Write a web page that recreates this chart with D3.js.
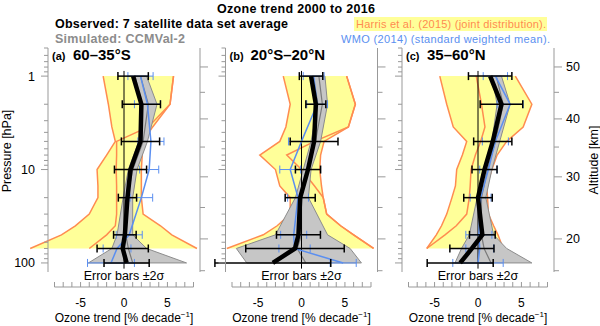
<!DOCTYPE html>
<html lang="en">
<head>
  <meta charset="UTF-8">
  <title>Ozone trend 2000 to 2016</title>
  <script src="https://d3js.org/d3.v7.min.js"></script>
  <style>
    body { margin: 0; background: white; }
    svg { font-family: "Liberation Sans", Arial, Helvetica, sans-serif; }
    .axis { stroke: #999; stroke-width: 1px; fill: none; }
    .harris { fill: none; stroke: #ff8c50; stroke-width: 1.5px; }
    .ccm { fill: #c6c6c6; stroke: #8c8c8c; stroke-width: 1px; }
    .ccmmid { fill: none; stroke: #7a7a7a; stroke-width: 1.2px; }
    .wmo { fill: none; stroke: #5b8ff0; stroke-width: 1.5px; }
    .obs { fill: none; stroke: black; stroke-width: 4.5px; }
    .errobs { stroke: black; stroke-width: 1.5px; }
    .errwmo { stroke: #5b8ff0; stroke-width: 1px; }
  </style>
</head>
<body>
<svg id="svg" width="600" height="326"></svg>
<script>
// pressure levels [hPa] of observed, model and WMO trends
const pLevels = [1, 2, 5, 10, 20, 50, 70, 100];
// pressure levels of the Harris et al. (2015) range
const harrisP = [1, 2, 3.5, 5, 7, 10, 15, 20, 30, 40, 50, 70];

const panelTags = ["(a)", "(b)", "(c)"];
const panelTitles = ["60\u201335\u00b0S", "20\u00b0S\u201320\u00b0N", "35\u201360\u00b0N"];

// (a) 60-35S
const obsA = [1.05, 2.0, 1.9, 0.75, 0.4, 0.1, -0.15, 0.3];
const obsErrA = [1.75, 2.2, 2.2, 1.85, 1.05, 1.3, 2.95, 2.6];
const wmoA = [1.9, 2.7, 3.1, 2.9, 2.0, 0.6, -0.8, -1.5];
const wmoErrA = [1.45, 1.5, 1.5, 1.1, 1.3, 1.5, 1.6, 2.7];
const ccmLoA = [1.3, 2.0, 1.7, 0.5, -0.1, -0.8, -1.4, -4.1];
const ccmHiA = [2.6, 3.8, 2.7, 1.5, 1.0, 1.0, 2.6, 7.2];
const ccmMidA = [1.9, 2.8, 2.2, 1.0, 0.4, 0.2, 0.5, 1.0];
const harrisLoA = [-2.4, -1.8, -1.4, -1.0, -2.0, -3.1, -3.0, -3.0, -4.0, -5.6, -7.2, -10.8];
const harrisHiA = [5.7, 5.3, 3.3, 2.2, 2.1, 2.0, 2.0, 2.0, 2.2, 4.2, 5.5, 8.4];
const harrisInA = [5.7, 5.3, 2.8, -0.85, -0.85, -0.9, -0.85, -0.85, -0.85, -1.0, -2.0, -4.0];

// (b) 20S-20N
const obsB = [1.1, 1.65, 1.45, 0.75, -0.15, -0.35, -0.75, -3.3];
const obsErrB = [1.35, 1.15, 2.75, 1.45, 1.73, 2.53, 5.67, 6.67];
const wmoB = [1.4, 1.8, 0.0, -1.3, -0.4, -0.9, -0.8, 4.8];
const wmoErrB = [1.2, 1.2, 1.5, 1.2, 1.2, 1.5, 1.8, 1.5];
const ccmLoB = [1.36, 1.9, 1.1, 0.2, -0.7, -3.0, -7.5, -6.3];
const ccmHiB = [2.7, 3.0, 2.2, 1.1, 0.8, 3.0, 5.6, 6.9];
const ccmMidB = [2.0, 2.4, 1.6, 0.65, 0.0, 0.0, -0.5, 0.5];
const harrisLoB = [-2.1, -1.3, -1.8, -2.5, -4.8, -3.0, -2.5, -1.3, -1.3, -2.8, -4.4, -8.6];
const harrisHiB = [5.2, 6.2, 5.4, 2.6, 2.2, 2.1, 2.3, 2.5, 2.9, 4.5, 6.0, 8.3];
const harrisInB = [5.2, 6.2, 5.4, 1.5, -1.7, 0.0, 1.5, 2.5, 2.9, 4.5, 6.0, 8.3];

// (c) 35-60N
const obsC = [1.4, 2.7, 1.7, 0.75, 0.0, 0.5, -0.7, -2.05];
const obsErrC = [2.5, 2.45, 2.2, 1.44, 1.64, 1.48, 2.54, 3.8];
const wmoC = [2.0, 3.7, 2.0, 1.2, 0.3, 0.1, 0.2, 0.0];
const wmoErrC = [1.4, 1.5, 1.5, 1.0, 1.2, 1.5, 1.6, 2.9];
const ccmLoC = [1.6, 2.2, 1.6, 0.6, -0.1, -1.0, -1.9, -2.65];
const ccmHiC = [2.7, 3.7, 2.5, 1.6, 0.9, 1.8, 3.3, 6.2];
const ccmMidC = [2.1, 2.9, 2.0, 1.1, 0.4, 0.4, 0.7, 1.5];
const harrisLoC = [-4.4, -3.6, -2.85, -1.3, -1.8, -2.45, -2.6, -3.0, -3.6, -4.2, -4.8, -5.9];
const harrisHiC = [4.3, 6.2, 5.2, 3.3, 2.2, 1.6, 1.0, 1.1, 1.2, 1.8, 2.3, 2.9];
const harrisInC = [-0.2, 0.4, 0.8, 0.3, -0.3, -0.8, -0.9, -1.0, -1.3, -2.5, -3.8, -5.9];

// axes
const xTicks = d3.range(-8, 9);
const xLabels = [-5, 0, 5];
const pTicks = [0.5, 0.6, 0.7, 0.8, 0.9, 1, 2, 3, 4, 5, 6, 7, 8, 9, 10, 20, 30, 40, 50, 60, 70, 80, 90, 100];
const pLabels = [1, 10, 100];
// altitude [km] and its standard atmosphere pressure [hPa]
const altKm = [15, 20, 25, 30, 35, 40, 45, 50];
const altP = [121.1, 55.29, 25.49, 11.97, 5.746, 2.871, 1.491, 0.7978];

const panels = [
  {obs: obsA, obsErr: obsErrA, wmo: wmoA, wmoErr: wmoErrA, ccmLo: ccmLoA, ccmHi: ccmHiA, ccmMid: ccmMidA,
   hLo: harrisLoA, hHi: harrisHiA, hIn: harrisInA},
  {obs: obsB, obsErr: obsErrB, wmo: wmoB, wmoErr: wmoErrB, ccmLo: ccmLoB, ccmHi: ccmHiB, ccmMid: ccmMidB,
   hLo: harrisLoB, hHi: harrisHiB, hIn: harrisInB},
  {obs: obsC, obsErr: obsErrC, wmo: wmoC, wmoErr: wmoErrC, ccmLo: ccmLoC, ccmHi: ccmHiC, ccmMid: ccmMidC,
   hLo: harrisLoC, hHi: harrisHiC, hIn: harrisInC}
];

const svg = d3.select("#svg");
const y = d3.scaleLog().domain([0.5, 125]).range([48, 272]);
const lefts = [48, 225.5, 402];
const panelW = 152;

// header
svg.append("text").attr("x", 296).attr("y", 13).attr("text-anchor", "middle")
  .attr("font-weight", "bold").attr("font-size", 12.5).attr("textLength", 158)
  .text("Ozone trend 2000 to 2016");
svg.append("text").attr("x", 55).attr("y", 28)
  .attr("font-weight", "bold").attr("font-size", 12.5).attr("textLength", 233)
  .text("Observed: 7 satellite data set average");
svg.append("text").attr("x", 55).attr("y", 43).attr("fill", "#8c8c8c")
  .attr("font-weight", "bold").attr("font-size", 12.5).attr("textLength", 130)
  .text("Simulated: CCMVal-2");
svg.append("rect").attr("x", 354).attr("y", 17).attr("width", 193).attr("height", 14)
  .attr("fill", "#ffff99");
svg.append("text").attr("x", 356).attr("y", 28).attr("fill", "#ff8c50")
  .attr("font-size", 11).attr("textLength", 190)
  .text("Harris et al. (2015) (joint distribution).");
svg.append("text").attr("x", 341).attr("y", 43).attr("fill", "#5b8ff0")
  .attr("font-size", 11).attr("textLength", 209)
  .text("WMO (2014) (standard weighted mean).");

// axis titles
svg.append("text").attr("transform", "translate(11,151) rotate(-90)")
  .attr("text-anchor", "middle").attr("font-size", 12.5).text("Pressure [hPa]");
svg.append("text").attr("transform", "translate(598,160) rotate(-90)")
  .attr("text-anchor", "middle").attr("font-size", 12.5).text("Altitude [km]");

panels.forEach(function(d, i) {
  const x = d3.scaleLinear().domain([-8.75, 8.75]).range([lefts[i], lefts[i] + panelW]);
  const g = svg.append("g");
  const right = lefts[i] + panelW;

  // Harris range
  const hData = harrisP.map((p, k) => ({p: p, lo: d.hLo[k], hi: d.hHi[k], mid: d.hIn[k]}));
  g.append("path").datum(hData)
    .attr("fill", "#ffff99")
    .attr("d", d3.area().y(e => y(e.p)).x0(e => x(e.lo)).x1(e => x(e.hi)));
  ["lo", "hi", "mid"].forEach(function(key) {
    g.append("path").datum(hData).attr("class", "harris")
      .attr("d", d3.line().x(e => x(e[key])).y(e => y(e.p)));
  });

  // CCMVal-2 range
  const mData = pLevels.map((p, k) => ({p: p, lo: d.ccmLo[k], hi: d.ccmHi[k], mid: d.ccmMid[k],
    obs: d.obs[k], obsErr: d.obsErr[k], wmo: d.wmo[k], wmoErr: d.wmoErr[k]}));
  g.append("path").datum(mData).attr("class", "ccm")
    .attr("d", d3.area().y(e => y(e.p)).x0(e => x(e.lo)).x1(e => x(e.hi)));
  g.append("path").datum(mData).attr("class", "ccmmid")
    .attr("d", d3.line().x(e => x(e.mid)).y(e => y(e.p)));

  // zero line
  g.append("line").attr("x1", x(0)).attr("x2", x(0))
    .attr("y1", y(0.88)).attr("y2", y(115)).attr("stroke", "black").attr("stroke-width", 1);

  // WMO
  g.append("path").datum(mData).attr("class", "wmo")
    .attr("d", d3.line().x(e => x(e.wmo)).y(e => y(e.p)));
  const we = g.selectAll(".we").data(mData).join("g").attr("class", "errwmo");
  we.append("line").attr("x1", e => x(e.wmo - e.wmoErr)).attr("x2", e => x(e.wmo + e.wmoErr))
    .attr("y1", e => y(e.p)).attr("y2", e => y(e.p));
  we.append("line").attr("x1", e => x(e.wmo - e.wmoErr)).attr("x2", e => x(e.wmo - e.wmoErr))
    .attr("y1", e => y(e.p) - 4).attr("y2", e => y(e.p) + 4);
  we.append("line").attr("x1", e => x(e.wmo + e.wmoErr)).attr("x2", e => x(e.wmo + e.wmoErr))
    .attr("y1", e => y(e.p) - 4).attr("y2", e => y(e.p) + 4);

  // observed
  g.append("path").datum(mData).attr("class", "obs")
    .attr("d", d3.line().x(e => x(e.obs)).y(e => y(e.p)));
  const oe = g.selectAll(".oe").data(mData).join("g").attr("class", "errobs");
  oe.append("line").attr("x1", e => x(e.obs - e.obsErr)).attr("x2", e => x(e.obs + e.obsErr))
    .attr("y1", e => y(e.p)).attr("y2", e => y(e.p));
  oe.append("line").attr("x1", e => x(e.obs - e.obsErr)).attr("x2", e => x(e.obs - e.obsErr))
    .attr("y1", e => y(e.p) - 4).attr("y2", e => y(e.p) + 4);
  oe.append("line").attr("x1", e => x(e.obs + e.obsErr)).attr("x2", e => x(e.obs + e.obsErr))
    .attr("y1", e => y(e.p) - 4).attr("y2", e => y(e.p) + 4);

  // pressure axis (left)
  g.append("line").attr("class", "axis").attr("x1", lefts[i]).attr("x2", lefts[i]).attr("y1", 48).attr("y2", 272);
  g.selectAll(".pt").data(pTicks).join("line").attr("class", "axis")
    .attr("x1", p => lefts[i] - (pLabels.includes(p) ? 7 : 4)).attr("x2", lefts[i])
    .attr("y1", p => y(p)).attr("y2", p => y(p));
  if (i == 0) {
    g.selectAll(".pl").data(pLabels).join("text")
      .attr("x", 35).attr("y", p => y(p) + 4.5).attr("text-anchor", "end").attr("font-size", 12.5)
      .text(p => p);
  }

  // altitude axis (right)
  g.append("line").attr("class", "axis").attr("x1", right).attr("x2", right).attr("y1", 48).attr("y2", 272);
  g.selectAll(".at").data(altKm).join("line").attr("class", "axis")
    .attr("x1", right).attr("x2", (a) => right + (a % 10 == 0 ? 8 : 5))
    .attr("y1", (a, k) => y(altP[k])).attr("y2", (a, k) => y(altP[k]));
  if (i == 2) {
    g.selectAll(".al").data(altKm.filter(a => a % 10 == 0)).join("text")
      .attr("x", right + 12).attr("y", a => y(altP[altKm.indexOf(a)]) + 4.5).attr("font-size", 12.5)
      .text(a => a);
  }

  // trend axis (bottom)
  g.append("line").attr("class", "axis").attr("x1", x(-8)).attr("x2", x(8)).attr("y1", 287).attr("y2", 287);
  g.selectAll(".xt").data(xTicks).join("line").attr("class", "axis")
    .attr("x1", v => x(v)).attr("x2", v => x(v)).attr("y1", 282).attr("y2", 287);
  g.selectAll(".xl").data(xLabels).join("text")
    .attr("x", v => x(v)).attr("y", 307).attr("text-anchor", "middle").attr("font-size", 12)
    .text(v => v);
  const xt = g.append("text").attr("x", x(0)).attr("y", 322).attr("text-anchor", "middle").attr("font-size", 12);
  xt.append("tspan").text("Ozone trend [% decade");
  xt.append("tspan").attr("font-size", 8).attr("dy", -5).text("\u22121");
  xt.append("tspan").attr("dy", 5).text("]");

  g.append("text").attr("x", x(0)).attr("y", 280).attr("text-anchor", "middle").attr("font-size", 12.5)
    .text("Error bars \u00b12\u03c3");

  // panel title
  g.append("text").attr("x", lefts[i] + 4).attr("y", 60).attr("font-size", 11).attr("font-weight", "bold")
    .text(panelTags[i]);
  g.append("text").attr("x", lefts[i] + 25).attr("y", 60).attr("font-size", 15).attr("font-weight", "bold")
    .text(panelTitles[i]);
});
</script>
</body>
</html>
